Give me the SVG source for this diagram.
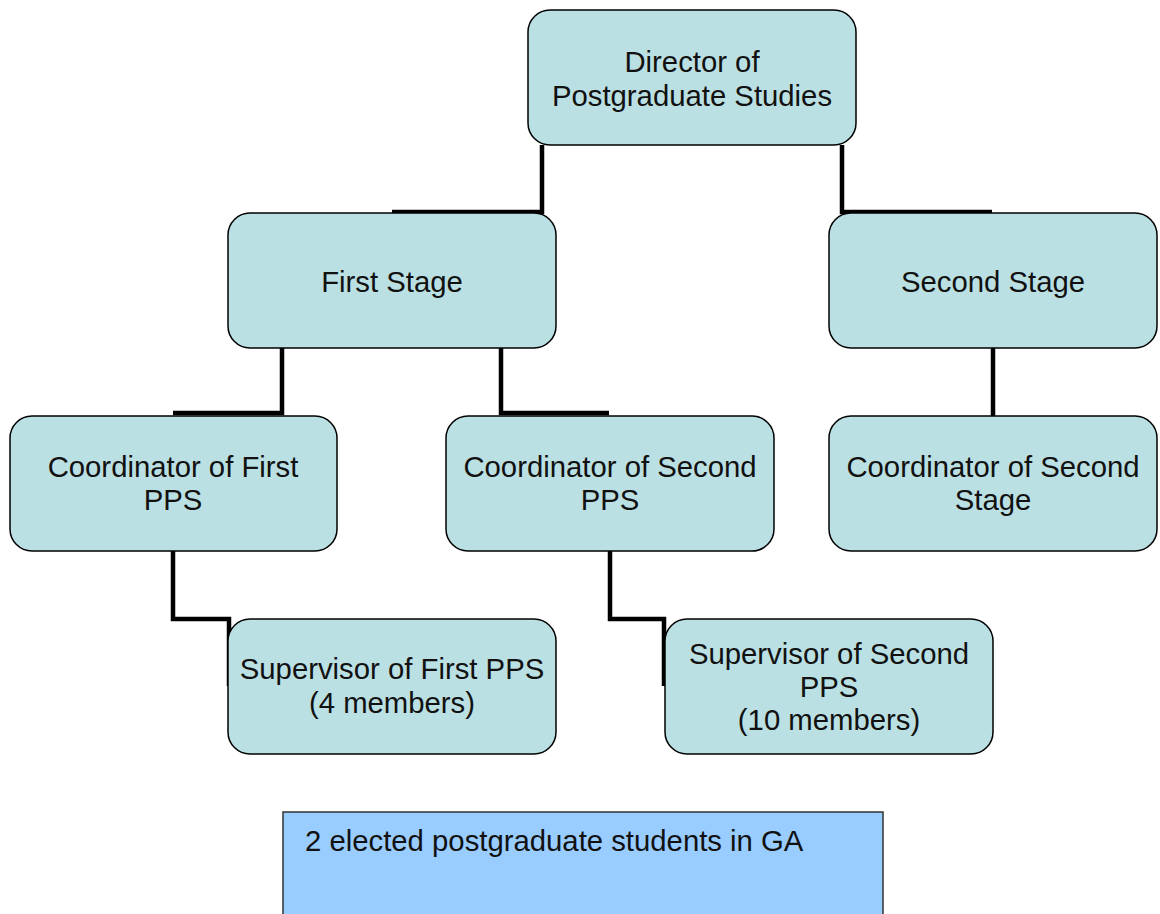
<svg xmlns="http://www.w3.org/2000/svg" width="1160" height="914" viewBox="0 0 1160 914">
<style>
.box{fill:#bbe0e3;stroke:#000;stroke-width:1.5}
.t{font-family:"Liberation Sans",Arial,sans-serif;font-size:29.3px;fill:#111;text-anchor:middle}
.c{fill:none;stroke:#000;stroke-width:4.5;stroke-linejoin:miter;stroke-linecap:butt}
</style>
<rect width="1160" height="914" fill="#fff"/>
<g id="connectors">
<path class="c" d="M542 145V212H392"/>
<path class="c" d="M842 145V212H992"/>
<path class="c" d="M282 348V413H173"/>
<path class="c" d="M501 348V413H609"/>
<path class="c" d="M993 348V416"/>
<path class="c" d="M173 551V619H229V686"/>
<path class="c" d="M610 551V619H664V686"/>
</g>
<g id="director">
<rect class="box" x="528" y="10" width="328" height="135" rx="22"/>
<text class="t" x="692" y="72">Director of</text>
<text class="t" x="692" y="106">Postgraduate Studies</text>
</g>
<g id="first-stage">
<rect class="box" x="228" y="213" width="328" height="135" rx="22"/>
<text class="t" x="392" y="292">First Stage</text>
</g>
<g id="second-stage">
<rect class="box" x="829" y="213" width="328" height="135" rx="22"/>
<text class="t" x="993" y="292">Second Stage</text>
</g>
<g id="coord-first-pps">
<rect class="box" x="10" y="416" width="327" height="135" rx="22"/>
<text class="t" x="173" y="477">Coordinator of First</text>
<text class="t" x="173" y="510">PPS</text>
</g>
<g id="coord-second-pps">
<rect class="box" x="446" y="416" width="328" height="135" rx="22"/>
<text class="t" x="610" y="477">Coordinator of Second</text>
<text class="t" x="610" y="510">PPS</text>
</g>
<g id="coord-second-stage">
<rect class="box" x="829" y="416" width="328" height="135" rx="22"/>
<text class="t" x="993" y="477">Coordinator of Second</text>
<text class="t" x="993" y="510">Stage</text>
</g>
<g id="supervisor-first-pps">
<rect class="box" x="228" y="619" width="328" height="135" rx="22"/>
<text class="t" x="392" y="679">Supervisor of First PPS</text>
<text class="t" x="392" y="713">(4 members)</text>
</g>
<g id="supervisor-second-pps">
<rect class="box" x="665" y="619" width="328" height="135" rx="22"/>
<text class="t" x="829" y="664">Supervisor of Second</text>
<text class="t" x="829" y="697">PPS</text>
<text class="t" x="829" y="730">(10 members)</text>
</g>
<g id="ga-students">
<rect x="283" y="812" width="600" height="110" fill="#99ccff" stroke="#333" stroke-width="1.5"/>
<text class="t" x="305" y="851" style="text-anchor:start">2 elected postgraduate students in GA</text>
</g>
</svg>
